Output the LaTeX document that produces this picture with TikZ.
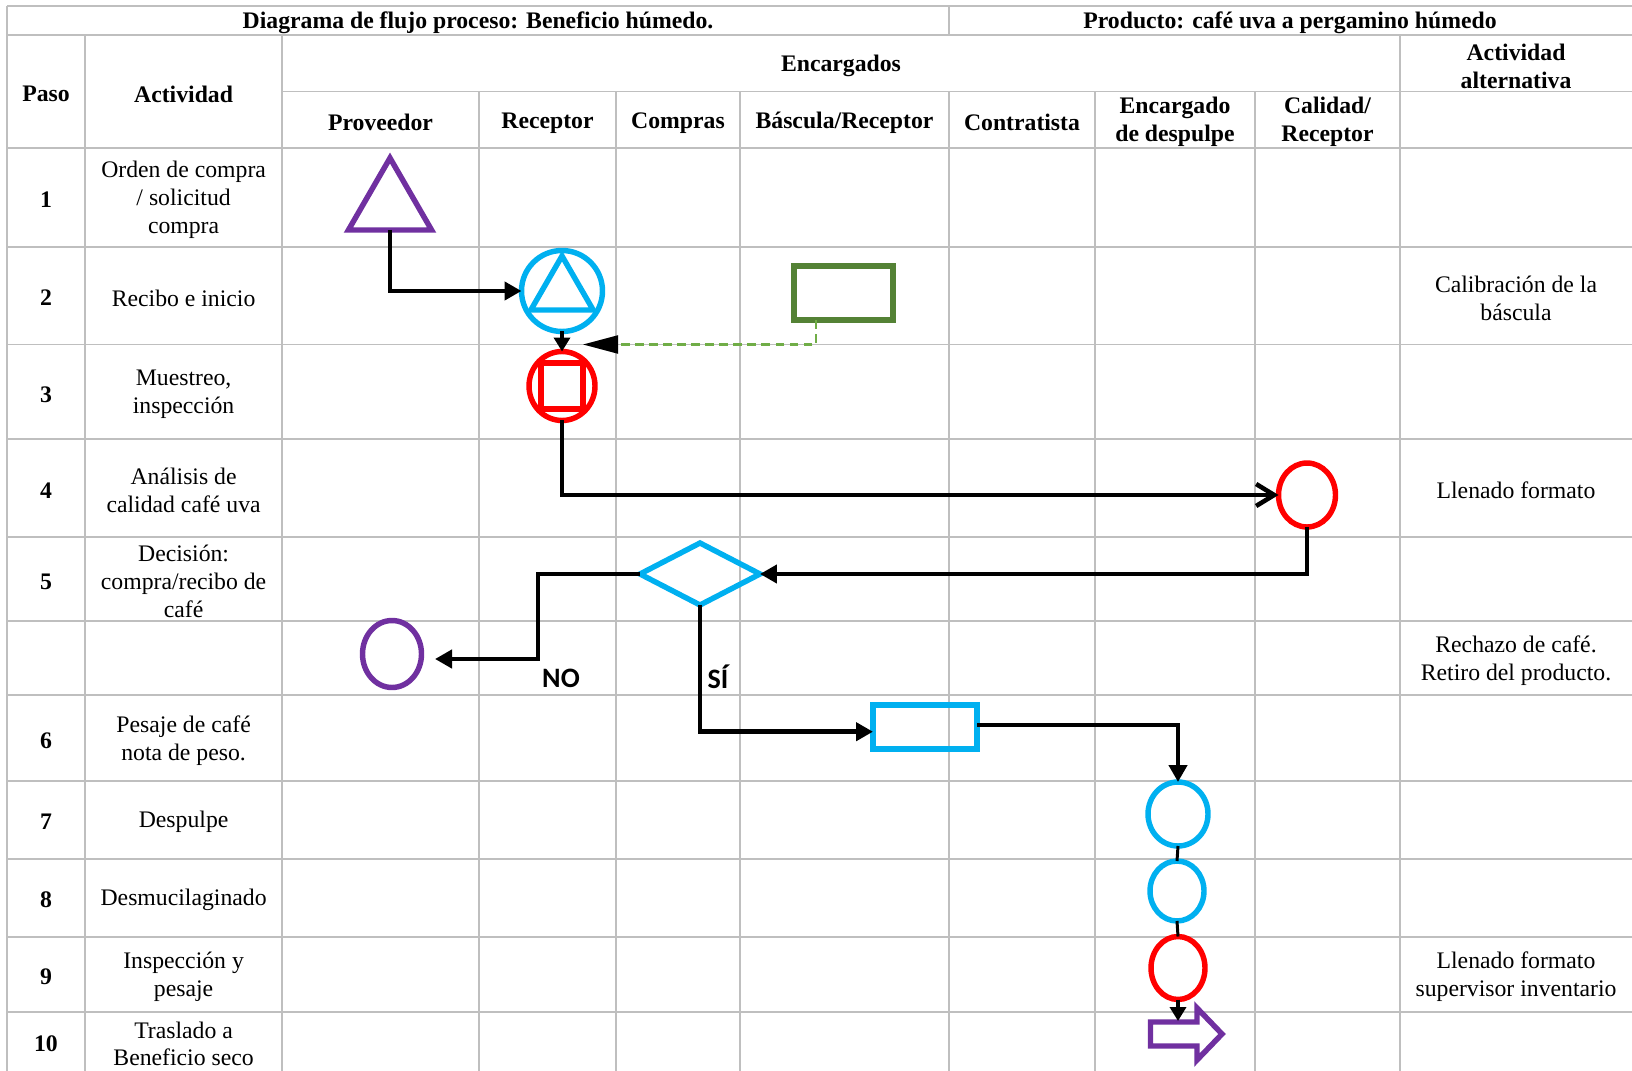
\documentclass[tikz,border=0pt]{standalone}
\usepackage{fontspec}
\setmainfont{Liberation Serif}
\newfontfamily\calib{Carlito}
\usetikzlibrary{shapes.geometric,arrows.meta,calc}
\definecolor{gridc}{HTML}{BFBFBF}
\definecolor{purp}{HTML}{7030A0}
\definecolor{cyanc}{HTML}{00B0F0}
\definecolor{redc}{HTML}{FF0000}
\definecolor{dgreen}{HTML}{548235}
\definecolor{lgreen}{HTML}{70AD47}
\begin{document}
\begin{tikzpicture}[x=0.02cm,y=-0.02cm,
  gridline/.style={draw=gridc,line width=1.1pt},
  txt/.style={font=\fontsize{13.5}{15.9}\selectfont, align=center, inner sep=0, yshift=-0.05cm},
  hdr/.style={font=\fontsize{13.5}{15.9}\selectfont\bfseries, align=center, inner sep=0, yshift=-0.05cm},
  lbl/.style={font=\calib\bfseries\fontsize{16}{18}\selectfont, inner sep=0},
  shp/.style={line width=3.1pt, inner sep=0, outer sep=0},
  conn/.style={line width=2.55pt, -{Triangle[length=0.34cm,width=0.36cm]}},
  conns/.style={line width=2.55pt, -{Triangle[length=0.28cm,width=0.32cm]}},
  thin/.style={line width=1.7pt},
  dashg/.style={draw=lgreen, line width=1.2pt, dash pattern=on 5pt off 3pt,
     -{Triangle[length=0.7cm,width=0.36cm,color=black]}},
  barb/.style={line width=2pt, -{Straight Barb[length=0.36cm,width=0.44cm,line width=2.6pt]}}
]
\fill[white] (0,0) rectangle (1632,1071);
\useasboundingbox (0,0) rectangle (1632,1071);

% ---------- grid ----------
\draw[gridline] (7,6) -- (1632,6);
\draw[gridline] (7,35) -- (1632,35);
\draw[gridline] (282,91.5) -- (1632,91.5);
\foreach \yy in {148,246.7,344.5,439.2,537,621.4,695.3,780.6,858.6,936.7,1011.7}
  \draw[gridline] (7,\yy) -- (1632,\yy);
\draw[gridline] (7,6) -- (7,1071);
\draw[gridline] (949,6) -- (949,35);
\foreach \xx in {85,282,1400}
  \draw[gridline] (\xx,35) -- (\xx,1071);
\foreach \xx in {479,616,740,949,1095,1255}
  \draw[gridline] (\xx,91.5) -- (\xx,1071);

% ---------- headers ----------
\node[hdr] (title1) at (478,20.7) {Diagrama de flujo proceso: Beneficio húmedo.};
\node[hdr] (title2) at (1290,20.7) {Producto: café uva a pergamino húmedo};
\node[hdr] (hpaso) at (46,91.6) {Paso};
\node[hdr] (hact) at (183.6,91.6) {Actividad};
\node[hdr] (henc) at (841,63.5) {Encargados};
\node[hdr] (halt) at (1516,63.5) {Actividad\\alternativa};
\node[hdr] (hprov) at (380.5,119.7) {Proveedor};
\node[hdr] (hrec) at (547.5,120.7) {Receptor};
\node[hdr] (hcom) at (678,120.7) {Compras};
\node[hdr] (hbas) at (844.5,120.7) {Báscula/Receptor};
\node[hdr] (hcon) at (1022,119.7) {Contratista};
\node[hdr] (hdes) at (1175,119.7) {Encargado\\de despulpe};
\node[hdr] (hcal) at (1327.5,119.7) {Calidad/\\Receptor};

% ---------- step numbers ----------
\node[hdr] (p1) at (46,197.3) {1};
\node[hdr] (p2) at (46,295.6) {2};
\node[hdr] (p3) at (46,391.9) {3};
\node[hdr] (p4) at (46,488.1) {4};
\node[hdr] (p5) at (46,579.2) {5};
\node[hdr] (p6) at (46,738) {6};
\node[hdr] (p7) at (46,819.6) {7};
\node[hdr] (p8) at (46,897.7) {8};
\node[hdr] (p9) at (46,974.2) {9};
\node[hdr] (p10) at (46,1041.4) {10};

% ---------- activities ----------
\node[txt] (a1) at (183.6,197.3) {Orden de compra\\/ solicitud\\compra};
\node[txt] (a2) at (183.6,295.6) {Recibo e inicio};
\node[txt] (a3) at (183.6,391.9) {Muestreo,\\inspección};
\node[txt] (a4) at (183.6,488.1) {Análisis de\\calidad café uva};
\node[txt] (a5) at (183.6,579.2) {Decisión:\\compra/recibo de\\café};
\node[txt] (a6) at (183.6,738) {Pesaje de café\\nota de peso.};
\node[txt] (a7) at (183.6,819.6) {Despulpe};
\node[txt] (a8) at (183.6,897.7) {Desmucilaginado};
\node[txt] (a9) at (183.6,974.2) {Inspección y\\pesaje};
\node[txt] (a10) at (183.6,1041.4) {Traslado a\\Beneficio seco};

% ---------- alternative activities ----------
\node[txt] (alt2) at (1516,295.6) {Calibración de la\\báscula};
\node[txt] (alt4) at (1516,488.1) {Llenado formato};
\node[txt] (alt5) at (1516,658.4) {Rechazo de café.\\Retiro del producto.};
\node[txt] (alt9) at (1516,974.2) {Llenado formato\\supervisor inventario};

% ---------- shapes ----------
\node[shp, draw=purp, regular polygon, regular polygon sides=3, minimum size=1.92cm] (t1) at (390,206) {};
\node[shp, draw=cyanc, circle, minimum size=1.62cm] (c2) at (562,291) {};
\node[shp, draw=cyanc, regular polygon, regular polygon sides=3, minimum size=1.44cm] (t2) at (562,292) {};
\node[shp, draw=dgreen, rectangle, minimum width=1.98cm, minimum height=1.08cm] (gr) at (843.5,293) {};
\node[shp, draw=redc, ellipse, minimum width=1.32cm, minimum height=1.38cm] (c3) at (562,386) {};
\node[shp, draw=redc, rectangle, minimum width=0.84cm, minimum height=0.92cm] (s3) at (562,386) {};
\node[shp, draw=redc, ellipse, minimum width=1.14cm, minimum height=1.28cm] (c4) at (1307,495) {};
\node[shp, draw=cyanc, diamond, aspect=2, minimum width=2.4cm, minimum height=1.24cm] (dia) at (700,574) {};
\node[shp, draw=purp, ellipse, minimum width=1.18cm, minimum height=1.34cm] (cno) at (392,654) {};
\node[shp, draw=cyanc, rectangle, minimum width=2.08cm, minimum height=0.88cm] (br) at (925,727) {};
\node[shp, draw=cyanc, ellipse, minimum width=1.2cm, minimum height=1.28cm] (c7) at (1178,814) {};
\node[shp, draw=cyanc, ellipse, minimum width=1.08cm, minimum height=1.2cm] (c8) at (1177,891) {};
\node[shp, draw=redc, ellipse, minimum width=1.08cm, minimum height=1.26cm] (c9) at (1178,968) {};
\draw[line width=3.1pt, draw=purp] (1150.5,1022) -- (1197,1022) -- (1197,1008) -- (1222,1034)
  -- (1197,1060) -- (1197,1046) -- (1150.5,1046) -- cycle;
\coordinate (ba) at (1178,1021);

% ---------- coordinates for free ends ----------
\coordinate (dtip) at (583,344.5);
\coordinate (notip) at (435,659);

% ---------- connectors ----------
\draw[conn] (t1.south) |- (c2.west);
\draw[conns] (c2.south) -- (c3.north);
\draw[dashg] ([xshift=-0.55cm]gr.south) |- (dtip);
\draw[barb] (c3.south) |- (c4.west);
\draw[conn] (c4.south) |- (dia.east);
\draw[conn] (dia.west) -- ++(-102,0) |- (notip);
\draw[conn] (dia.south) |- ([yshift=-0.094cm]br.west);
\draw[conn] ([yshift=0.04cm]br.east) -| (c7.north);
\draw[thin] (c7.south) -- (c8.north);
\draw[thin] (c8.south) -- (c9.north);
\draw[conns] (c9.south) -- (ba);

% ---------- labels ----------
\node[lbl] (no) at (561,678) {NO};
\node[lbl] (si) at (718,677) {SÍ};
\end{tikzpicture}
\end{document}
